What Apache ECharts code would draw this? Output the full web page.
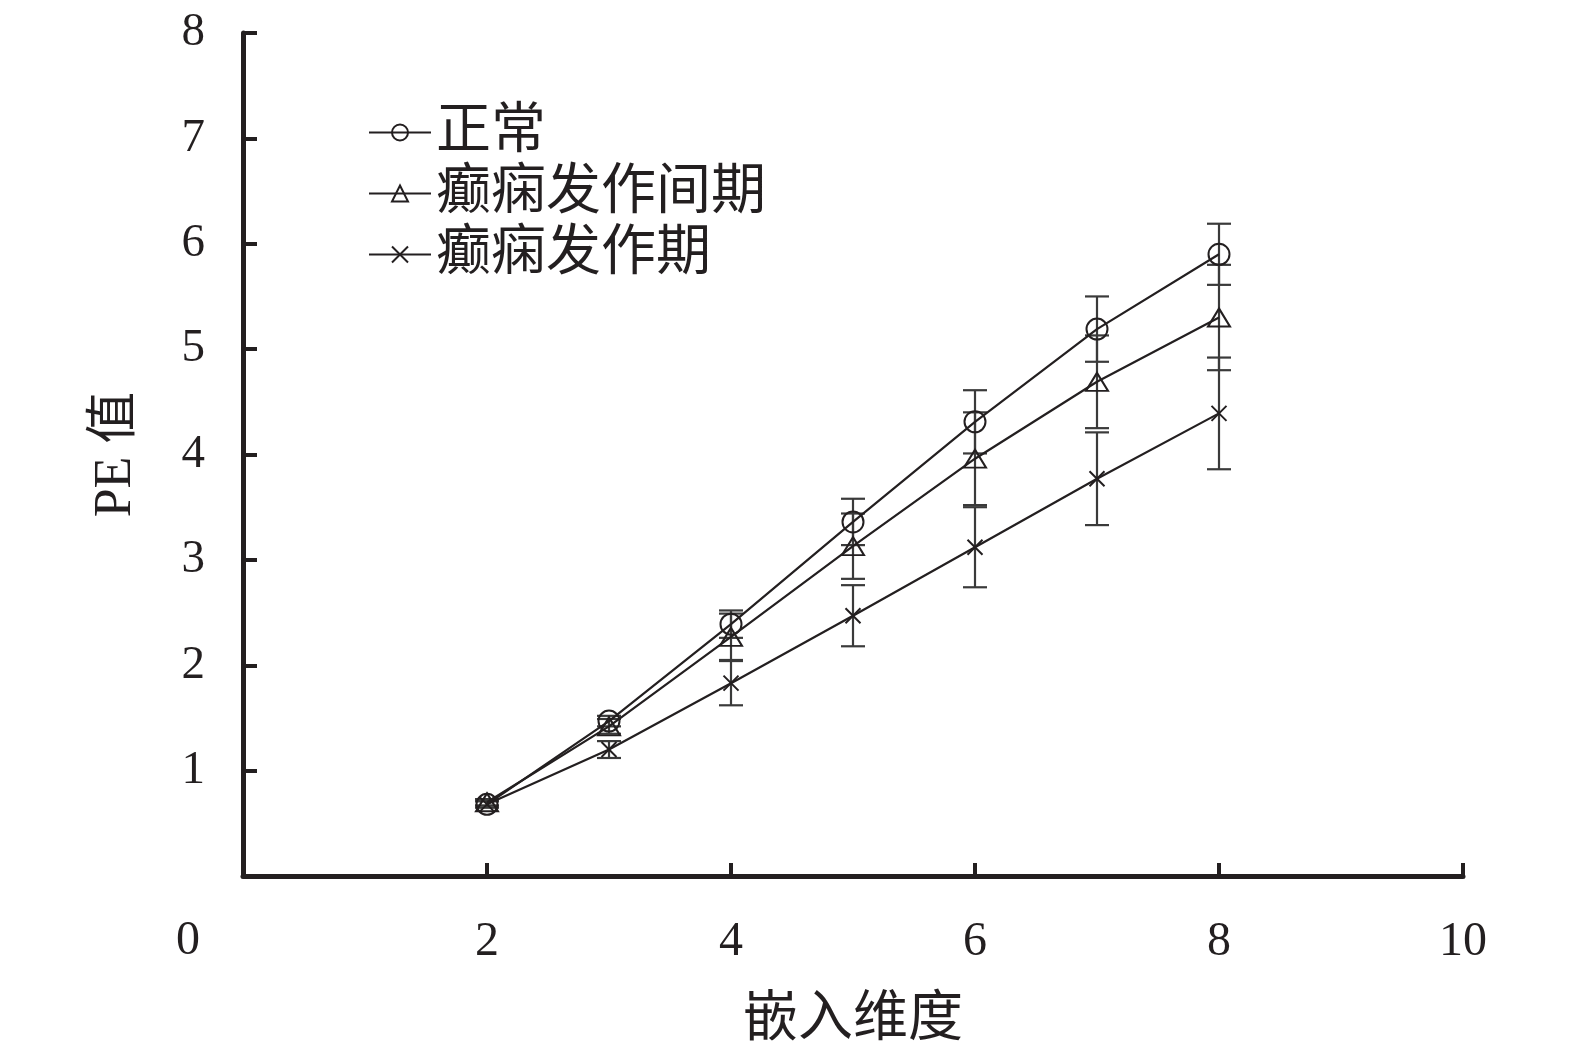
<!DOCTYPE html>
<html>
<head>
<meta charset="utf-8">
<script src="https://cdn.jsdelivr.net/npm/echarts@6/dist/echarts.min.js"></script>
<style>html,body{margin:0;padding:0;background:#fff}#c{width:1575px;height:1055px}</style>
</head>
<body>
<div id="c"></div>
<script>
const dims = [2, 3, 4, 5, 6, 7, 8];
const seriesNames = ['正常', '癫痫发作间期', '癫痫发作期'];
const normalMean = [0.68, 1.47, 2.39, 3.36, 4.31, 5.19, 5.90];
const normalSd = [0.03, 0.05, 0.13, 0.22, 0.30, 0.31, 0.29];
const interictalMean = [0.70, 1.42, 2.27, 3.13, 3.96, 4.69, 5.30];
const interictalSd = [0.03, 0.07, 0.22, 0.31, 0.44, 0.44, 0.50];
const ictalMean = [0.68, 1.20, 1.83, 2.47, 3.12, 3.77, 4.39];
const ictalSd = [0.03, 0.08, 0.21, 0.29, 0.38, 0.44, 0.53];
const xTicks = [0, 2, 4, 6, 8, 10];
const yTicks = [0, 1, 2, 3, 4, 5, 6, 7, 8];

const INK = '#231f20';
const SERIF = '"Liberation Serif", "Noto Sans CJK SC", serif';

function pts(mean) { return dims.map((d, i) => [d, mean[i]]); }
function bars(mean, sd) { return dims.map((d, i) => [d, mean[i] - sd[i], mean[i] + sd[i]]); }

function errRender(params, api) {
  const x = api.value(0), lo = api.value(1), hi = api.value(2);
  const a = api.coord([x, hi]), b = api.coord([x, lo]);
  const w = 12;
  const st = { stroke: '#3a3a3a', lineWidth: 2.2 };
  return {
    type: 'group',
    children: [
      { type: 'line', shape: { x1: a[0], y1: a[1], x2: b[0], y2: b[1] }, style: st },
      { type: 'line', shape: { x1: a[0] - w, y1: a[1], x2: a[0] + w, y2: a[1] }, style: st },
      { type: 'line', shape: { x1: b[0] - w, y1: b[1], x2: b[0] + w, y2: b[1] }, style: st }
    ]
  };
}

const markerStyle = { color: 'rgba(255,255,255,0)', borderColor: INK, borderWidth: 2 };
const lineStyle = { color: INK, width: 2.2 };

const chart = echarts.init(document.getElementById('c'));
chart.setOption({
  animation: false,
  backgroundColor: '#fff',
  grid: { left: 243, right: 112, top: 33, bottom: 179, outerBoundsMode: 'none', containLabel: false },
  xAxis: {
    type: 'value', min: 0, max: 10, interval: 2,
    axisLine: { lineStyle: { color: INK, width: 5 } },
    axisTick: { inside: true, length: 13, lineStyle: { color: INK, width: 4 } },
    splitLine: { show: false },
    axisLabel: {
      margin: 42, fontSize: 48, color: INK, fontFamily: SERIF,
      formatter: v => (v === 0 ? '' : String(v))
    },
    name: '嵌入维度', nameLocation: 'middle', nameGap: 117,
    nameTextStyle: { fontSize: 55, color: INK, fontFamily: SERIF }
  },
  yAxis: {
    type: 'value', min: 0, max: 8, interval: 1,
    axisLine: { lineStyle: { color: INK, width: 5 } },
    axisTick: { inside: true, length: 14, lineStyle: { color: INK, width: 4 } },
    splitLine: { show: false },
    axisLabel: {
      margin: 38, fontSize: 47, color: INK, fontFamily: SERIF,
      formatter: v => (v === 0 ? '' : String(v))
    },
    name: 'PE 值', nameLocation: 'middle', nameGap: 101,
    nameTextStyle: { fontSize: 52, color: INK, fontFamily: SERIF }
  },
  legend: {
    left: 363, top: 100, orient: 'vertical', itemGap: 6,
    itemWidth: 62, itemHeight: 20,
    textStyle: { fontSize: 55, lineHeight: 54, color: INK, fontFamily: SERIF },
    data: seriesNames
  },
  graphic: [{
    type: 'text', left: 176, top: 917,
    style: { text: String(xTicks[0]), font: '48px "Liberation Serif", serif', fill: INK }
  }],
  series: [
    { type: 'custom', name: seriesNames[0] + 'SD', data: bars(normalMean, normalSd), renderItem: errRender, z: 1 },
    { type: 'custom', name: seriesNames[1] + 'SD', data: bars(interictalMean, interictalSd), renderItem: errRender, z: 1 },
    { type: 'custom', name: seriesNames[2] + 'SD', data: bars(ictalMean, ictalSd), renderItem: errRender, z: 1 },
    { type: 'line', name: seriesNames[0], data: pts(normalMean), symbol: 'circle', symbolSize: 21,
      itemStyle: markerStyle, lineStyle: lineStyle, z: 3 },
    { type: 'line', name: seriesNames[1], data: pts(interictalMean), symbol: 'triangle', symbolSize: [22, 18],
      itemStyle: markerStyle, lineStyle: lineStyle, z: 3 },
    { type: 'line', name: seriesNames[2], data: pts(ictalMean), symbol: 'path://M0,0L10,10M10,0L0,10', symbolSize: 15,
      itemStyle: markerStyle, lineStyle: lineStyle, z: 3 }
  ]
});
</script>
</body>
</html>
